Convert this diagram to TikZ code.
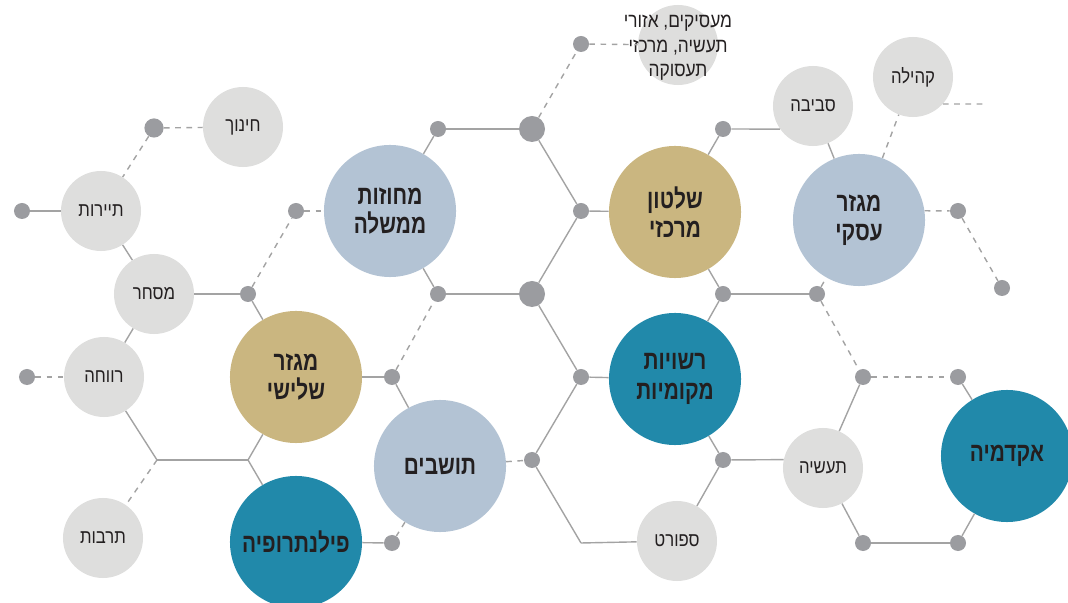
\documentclass[tikz,border=0pt]{standalone}
\usepackage{fontspec}
\newfontfamily\hebfont[Script=Hebrew, FakeStretch=0.85, BoldFeatures={FakeStretch=0.78}]{Liberation Sans}
\TeXXeTstate=1
\newcommand{\rl}[1]{\beginR#1\endR}
\definecolor{softgray}{HTML}{DEDEDD}
\definecolor{bluegray}{HTML}{B3C3D4}
\definecolor{sand}{HTML}{CAB680}
\definecolor{teal}{HTML}{2189AA}
\definecolor{jointgray}{HTML}{9B9CA0}
\definecolor{linegray}{HTML}{A3A3A3}
\definecolor{inkdark}{HTML}{231F20}
\tikzset{
  minor/.style={circle, fill=softgray, minimum size=2cm, inner sep=0pt, align=center, text=inkdark, font=\hebfont\fontsize{14}{17}\selectfont},
  major/.style={circle, minimum size=3.3cm, inner sep=0pt, align=center, text=inkdark, font=\hebfont\bfseries\fontsize{19}{21}\selectfont},
  joint/.style={circle, fill=jointgray, minimum size=0.4cm, inner sep=0pt},
  link/.style={draw=linegray, line width=1pt},
  dlink/.style={link, dash pattern=on 4pt off 4pt},
}
\begin{document}
\begin{tikzpicture}[x=0.025cm, y=-0.025cm]
\useasboundingbox (0,0) rectangle (1068,603);

% Joints
\foreach \n/\x/\y in {jA/22/211, jC/27/377, jD/248/294, jE/296/211,
	jF/392/377, jG/392/543, jH/438/129, jI/438/294, jL/581/44, jM/581/211,
	jN/581/377, jO/532/460, jP/723/129, jQ/723/294, jR/723/460, jS/817/294,
	jT/958/211, jU/1002/288, jV/863/377, jW/958/377, jX/863/543, jY/958/543} {
	\node[joint] (\n) at (\x,\y) {};
}
\node[joint, minimum size=0.48cm] (jB) at (154,128) {};
\node[joint, minimum size=0.65cm] (jJ) at (532,129) {};
\node[joint, minimum size=0.65cm] (jK) at (532,294) {};
\coordinate (bL) at (157,460);
\coordinate (bR) at (248,460);
\coordinate (bS) at (581,543);
\coordinate (tail) at (987,104);

% Sectors
\node[major, fill=bluegray] (districts) at (390,211) {\rl{מחוזות}\\\rl{ממשלה}};
\node[major, fill=sand] (third) at (296,377) {\rl{מגזר}\\\rl{שלישי}};
\node[major, fill=teal] (phil) at (296,542) {\rl{פילנתרופיה}};
\node[major, fill=bluegray] (residents) at (440,466) {\rl{תושבים}};
\node[major, fill=sand] (central) at (675,212) {\rl{שלטון}\\\rl{מרכזי}};
\node[major, fill=teal] (local) at (675,379) {\rl{רשויות}\\\rl{מקומיות}};
\node[major, fill=bluegray] (business) at (859,220) {\rl{מגזר}\\\rl{עסקי}};
\node[major, fill=teal] (academia) at (1007,456) {\rl{אקדמיה}};

% Fields
\node[minor] (edu) at (243,127) {\rl{חינוך}};
\node[minor] (tour) at (101,211) {\rl{תיירות}};
\node[minor] (trade) at (154,294) {\rl{מסחר}};
\node[minor] (welfare) at (104,377) {\rl{רווחה}};
\node[minor] (culture) at (103,538) {\rl{תרבות}};
\node[minor] (sport) at (677,541) {\rl{ספורט}};
\node[minor] (env) at (813,106) {\rl{סביבה}};
\node[minor] (community) at (913,77) {\rl{קהילה}};
\node[minor] (industry) at (823,468) {\rl{תעשיה}};
\node[minor, label={[align=center, text=inkdark, yshift=-2pt, font=\hebfont\fontsize{14.5}{17.5}\selectfont]center:\beginR מעסיקים, אזורי\endR\\\beginR תעשיה, מרכזי\endR\\\beginR תעסוקה\endR}] (employ) at (678,45) {};

% Connections
\foreach \a/\b in {jA/tour, tour/trade, trade/jD, trade/welfare, welfare/bL, bL/bR,
	bR/third, bR/phil, jD/third, third/jF, jF/residents, phil/jG, jO/jN, jO/bS, bS/sport,
	jI/jK, districts/jI, districts/jH, jH/jJ, jJ/jM, jM/central, jM/jK, jK/jN, jN/local,
	central/jP, jP/env.215, env/business, central/jQ, jQ/jS, jQ/local, jW/academia,
	jV/industry, local/jR, jR/industry.168, jR/sport, industry/jX, jX/jY, jY/academia} {
	\draw[link] (\a) -- (\b);
}
\foreach \a/\b in {jB/edu, jB/tour, jC/welfare, bL/culture, jD/jE, jE/districts,
	jF/jI, residents/jG, residents/jO, jJ/jL, jL/employ, jS/business, jS/jV, jV/jW,
	business.8/jT, jT/jU, business/community, community.-42/tail} {
	\draw[dlink] (\a) -- (\b);
}
\end{tikzpicture}
\end{document}
